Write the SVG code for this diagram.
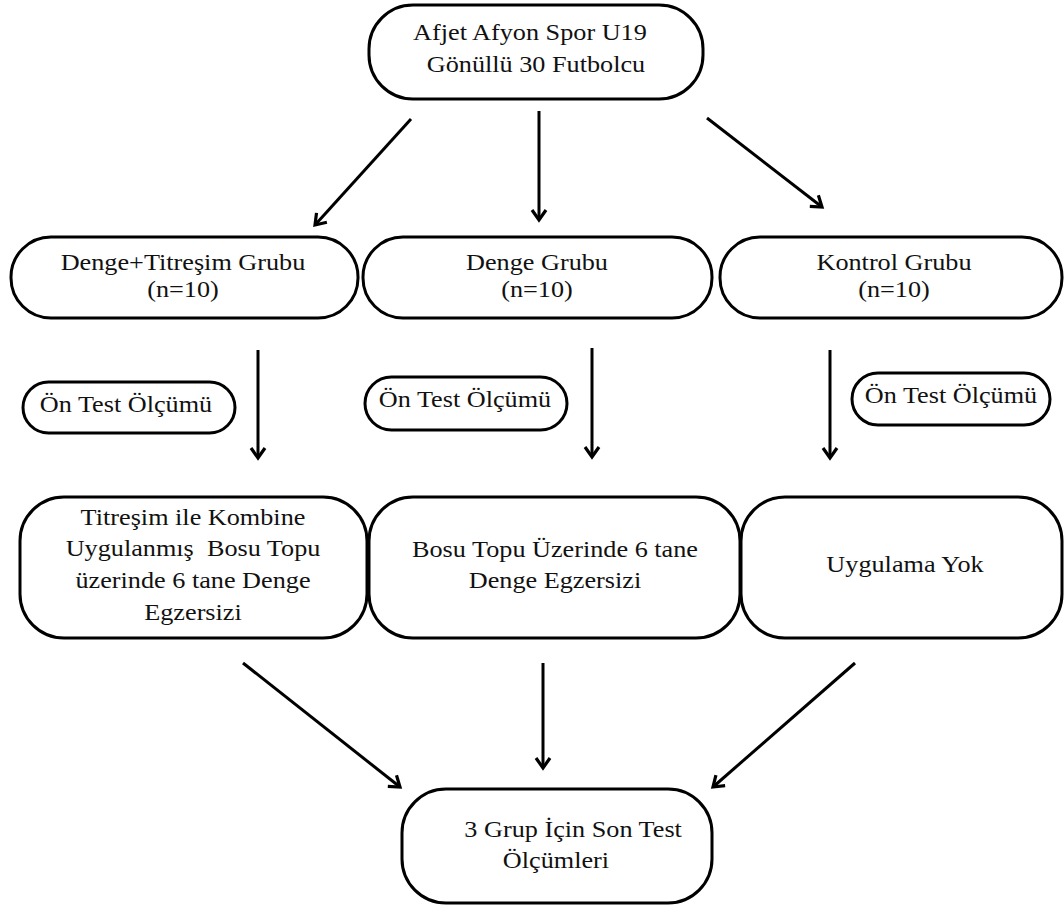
<svg xmlns="http://www.w3.org/2000/svg" width="1064" height="910" viewBox="0 0 1064 910">
<style>
  .box { fill: #ffffff; stroke: #000000; stroke-width: 3; }
  .t { font-family: 'Liberation Serif', 'DejaVu Serif', 'Times New Roman', serif; font-size: 23px; fill: #111111; text-anchor: middle; }
  .edge { stroke: #000000; stroke-width: 3; fill: none; marker-end: url(#ah); }
</style>
<defs>
  <marker id="ah" markerUnits="userSpaceOnUse" orient="auto" viewBox="-14 -10 18 20" markerWidth="18" markerHeight="20" refX="0" refY="0">
    <path d="M-10,-7 L0,0 L-10,7" fill="none" stroke="#000000" stroke-width="3.2" stroke-linejoin="miter"/>
  </marker>
</defs>
<rect width="1064" height="910" fill="#ffffff"/>

<g id="connectors">
  <line class="edge" x1="411" y1="119" x2="315" y2="225"/>
  <line class="edge" x1="539" y1="111" x2="539" y2="220"/>
  <line class="edge" x1="707" y1="118" x2="822" y2="207"/>
  <line class="edge" x1="258" y1="350" x2="258" y2="458"/>
  <line class="edge" x1="592" y1="348" x2="592" y2="457"/>
  <line class="edge" x1="830" y1="350" x2="830" y2="458"/>
  <line class="edge" x1="243" y1="663" x2="400" y2="787"/>
  <line class="edge" x1="543" y1="663" x2="543" y2="768"/>
  <line class="edge" x1="855" y1="663" x2="713" y2="787"/>
</g>

<g id="start">
  <rect class="box" x="369" y="5" width="334" height="94" rx="44"/>
  <text class="t" transform="translate(536,0) scale(1.14,1)"><tspan x="-5.3" y="40">Afjet Afyon Spor U19</tspan><tspan x="0" y="72">Gönüllü 30 Futbolcu</tspan></text>
</g>

<g id="group1">
  <rect class="box" x="11" y="237" width="347" height="81" rx="40"/>
  <text class="t" transform="translate(183,0) scale(1.14,1)"><tspan x="0" y="270">Denge+Titreşim Grubu</tspan><tspan x="0" y="297">(n=10)</tspan></text>
</g>
<g id="group2">
  <rect class="box" x="363" y="237" width="349" height="81" rx="40"/>
  <text class="t" transform="translate(537,0) scale(1.14,1)"><tspan x="0" y="270">Denge Grubu</tspan><tspan x="0" y="297">(n=10)</tspan></text>
</g>
<g id="group3">
  <rect class="box" x="720" y="237" width="342" height="81" rx="40"/>
  <text class="t" transform="translate(894,0) scale(1.14,1)"><tspan x="0" y="270">Kontrol Grubu</tspan><tspan x="0" y="297">(n=10)</tspan></text>
</g>

<g id="pretest1">
  <rect class="box" x="23" y="382" width="212" height="51" rx="25.5"/>
  <text class="t" transform="translate(126,412) scale(1.14,1)" x="0" y="0">Ön Test Ölçümü</text>
</g>
<g id="pretest2">
  <rect class="box" x="365" y="377" width="202" height="53" rx="26.5"/>
  <text class="t" transform="translate(465,407) scale(1.14,1)" x="0" y="0">Ön Test Ölçümü</text>
</g>
<g id="pretest3">
  <rect class="box" x="852" y="373" width="198" height="52" rx="26"/>
  <text class="t" transform="translate(951,403) scale(1.14,1)" x="0" y="0">Ön Test Ölçümü</text>
</g>

<g id="treatment1">
  <rect class="box" x="20" y="497" width="347" height="141" rx="44"/>
  <text class="t" transform="translate(193,0) scale(1.14,1)"><tspan x="0" y="525">Titreşim ile Kombine</tspan><tspan x="0" y="556">Uygulanmış&#160; Bosu Topu</tspan><tspan x="0" y="588">üzerinde 6 tane Denge</tspan><tspan x="0" y="620">Egzersizi</tspan></text>
</g>
<g id="treatment2">
  <rect class="box" x="369" y="497" width="371" height="141" rx="44"/>
  <text class="t" transform="translate(555,0) scale(1.14,1)"><tspan x="0" y="557">Bosu Topu Üzerinde 6 tane</tspan><tspan x="0" y="588">Denge Egzersizi</tspan></text>
</g>
<g id="treatment3">
  <rect class="box" x="741" y="497" width="321" height="141" rx="44"/>
  <text class="t" transform="translate(905,572) scale(1.14,1)" x="0" y="0">Uygulama Yok</text>
</g>

<g id="posttest">
  <rect class="box" x="402" y="789" width="310" height="114" rx="44"/>
  <text class="t" transform="translate(556,0) scale(1.14,1)"><tspan x="15" y="837">3 Grup İçin Son Test</tspan><tspan x="0" y="868">Ölçümleri</tspan></text>
</g>
</svg>
